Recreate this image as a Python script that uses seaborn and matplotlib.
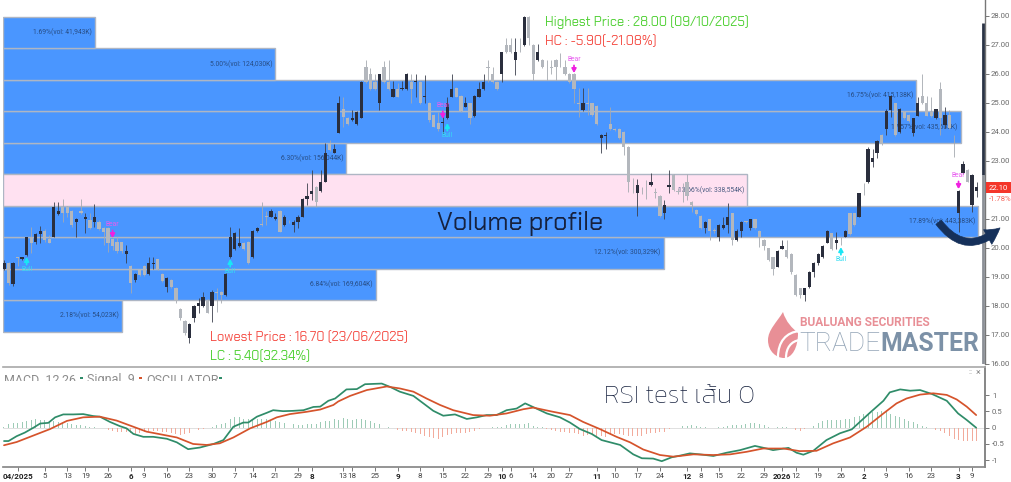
"""Daily candles with volume profile and MACD panel."""
import matplotlib
matplotlib.use("Agg")
import matplotlib.pyplot as plt
from matplotlib.patches import FancyArrowPatch, PathPatch, Rectangle
from matplotlib.path import Path
import numpy as np
import pandas as pd
import seaborn as sns

# candles, one per session
body_high = [
    19.47,19.49,19.49,19.68,19.68,20.37,20.37,20.48,20.59,20.60,
    20.31,21.40,21.28,21.40,21.40,21.28,20.99,21.29,21.08,20.97,
    21.08,20.91,20.68,20.68,20.30,20.21,20.21,19.90,19.38,19.09,
    19.26,19.38,19.49,19.48,19.61,19.10,18.98,18.90,18.61,17.90,
    17.49,17.38,18.00,18.09,18.30,18.18,18.49,18.47,18.49,19.09,
    20.39,20.51,20.18,20.18,20.22,20.59,20.68,20.81,21.09,21.29,
    21.08,21.29,21.08,20.91,20.91,21.08,21.68,21.79,21.98,22.09,
    22.29,23.28,23.61,23.40,24.99,24.78,24.47,24.49,24.70,25.73,
    26.23,26.00,25.73,26.00,26.23,25.73,25.47,25.47,25.50,26.00,
    25.73,25.76,25.73,25.24,24.99,24.58,24.30,24.33,24.99,25.48,
    25.50,25.24,24.99,24.99,25.24,25.48,25.73,26.24,26.00,25.73,
    26.75,27.00,27.00,26.75,27.01,27.98,27.98,27.00,26.75,26.48,
    26.01,26.24,26.48,26.49,26.23,26.00,26.00,25.00,24.99,25.00,
    24.99,24.89,23.89,23.89,24.27,24.09,24.09,24.00,23.49,22.18,
    22.17,21.97,22.01,22.29,21.92,21.80,21.48,22.17,22.52,21.95,
    22.01,22.29,21.60,21.31,21.10,20.91,20.99,20.62,20.79,20.79,
    21.08,21.20,20.59,20.91,20.92,20.99,20.99,20.59,20.28,19.99,
    19.68,19.91,20.07,19.93,19.79,19.07,18.61,18.61,19.18,19.49,
    19.78,20.07,20.59,20.51,20.28,20.29,20.59,21.20,21.20,21.89,
    21.87,23.40,23.09,23.70,23.89,24.72,25.24,24.99,24.78,24.69,
    24.58,24.47,24.99,25.24,24.99,24.70,24.78,25.48,24.58,24.58,
    23.18,21.98,22.89,22.69,22.51,22.10,
]
body_low = [
    19.29,18.78,18.76,19.67,19.61,19.77,20.18,20.21,20.48,20.28,
    20.18,20.39,21.18,21.20,21.20,20.79,20.89,21.20,20.99,20.68,
    20.91,20.66,20.56,20.18,20.07,19.89,19.89,19.79,18.78,18.89,
    19.07,19.07,19.09,19.45,19.26,18.87,18.67,18.67,18.18,17.58,
    17.06,16.89,17.58,18.00,18.00,17.77,18.00,18.44,18.38,18.38,
    19.68,19.97,20.08,19.97,19.47,19.68,20.59,20.78,21.07,21.08,
    20.99,20.56,20.79,20.89,20.79,20.89,21.08,21.68,21.86,21.57,
    21.98,22.29,23.38,23.29,23.98,24.50,24.27,24.41,24.27,24.49,
    25.73,25.47,25.47,24.99,25.73,25.47,25.22,25.22,25.47,25.47,
    25.47,25.73,24.99,25.22,24.41,24.18,24.09,24.31,24.47,25.22,
    25.22,24.73,24.87,24.48,24.56,25.22,25.47,26.22,25.73,25.47,
    26.00,26.75,26.75,26.48,26.99,27.00,27.23,26.00,26.48,26.23,
    25.99,26.22,26.23,26.47,26.00,25.73,25.47,24.98,24.76,24.98,
    24.58,24.27,23.78,23.86,24.09,24.07,23.78,23.49,22.29,22.16,
    21.88,21.95,21.99,22.17,21.90,21.10,21.19,22.11,22.00,21.93,
    21.99,21.79,21.48,21.17,20.68,20.68,20.59,20.60,20.39,20.68,
    20.79,20.28,20.28,20.59,20.90,20.68,20.68,20.39,20.07,19.59,
    19.28,19.36,19.98,19.68,19.16,18.38,18.38,18.38,18.67,19.18,
    19.47,19.68,20.18,19.98,20.18,20.27,20.39,20.48,20.79,21.08,
    21.85,22.27,22.98,23.29,23.58,24.09,24.76,23.89,24.01,24.47,
    24.39,23.98,24.56,24.99,24.56,24.56,24.47,24.47,24.24,24.12,
    23.16,21.19,22.57,22.29,21.48,21.98,
]
wick_high = [
    19.59,19.53,19.53,19.68,19.68,20.39,20.74,20.53,20.77,20.64,
    20.45,21.57,21.57,21.68,21.45,21.31,21.02,21.69,21.20,21.20,
    21.51,20.97,20.71,20.71,20.33,20.39,20.22,20.10,19.40,19.13,
    19.29,19.41,19.68,19.68,19.63,19.13,19.01,18.92,18.67,17.92,
    17.52,17.40,18.03,18.26,18.49,18.23,18.55,18.61,18.52,19.13,
    20.71,20.56,20.68,20.22,20.25,20.62,20.74,21.57,21.29,21.33,
    21.20,21.31,21.12,20.97,20.97,21.14,21.71,22.23,22.69,22.12,
    22.69,23.61,23.72,23.59,25.24,25.22,24.53,24.76,24.73,25.76,
    26.48,26.19,26.00,26.00,26.46,26.48,25.76,25.68,25.76,26.02,
    26.00,26.00,25.76,25.96,25.04,24.62,24.70,24.58,25.22,26.00,
    25.54,25.27,25.22,25.01,25.27,25.73,26.00,26.48,26.25,25.76,
    26.77,27.23,27.23,27.23,27.23,28.00,28.00,27.02,27.02,26.50,
    26.48,26.48,26.50,26.71,26.48,26.02,26.02,25.50,25.50,25.50,
    25.01,24.92,23.92,24.01,24.87,24.12,24.12,24.02,23.52,22.40,
    22.37,22.11,22.34,22.57,22.06,21.83,21.65,22.69,22.54,22.06,
    22.23,22.54,21.63,21.33,21.13,20.93,21.01,20.68,20.82,21.08,
    21.54,21.22,20.64,20.93,20.94,21.01,21.01,20.62,20.30,20.01,
    19.70,19.93,20.28,20.28,19.82,19.10,18.63,18.63,19.21,19.52,
    19.82,20.10,20.62,20.53,20.56,20.39,20.62,21.22,21.22,21.91,
    22.25,23.49,23.40,23.72,23.92,24.78,25.26,25.01,24.81,24.72,
    24.61,24.49,25.22,26.00,25.24,25.22,24.80,25.73,24.87,24.76,
    23.89,22.00,23.01,22.71,22.54,22.29,
]
wick_low = [
    19.24,18.72,18.69,19.38,19.59,19.72,19.82,20.14,20.16,20.22,
    20.16,20.37,21.14,20.91,21.08,20.74,20.39,21.17,20.51,20.64,
    20.74,20.62,20.10,19.87,19.93,19.82,19.84,19.49,18.44,18.83,
    19.03,19.05,19.06,19.26,19.24,18.84,18.49,18.61,18.09,17.52,
    17.00,16.71,17.46,17.75,17.95,17.75,17.46,17.80,18.09,18.36,
    19.64,19.93,20.05,19.93,19.45,19.64,20.55,20.77,20.79,21.06,
    20.97,20.54,20.76,20.85,20.56,20.68,21.06,21.48,21.66,21.40,
    21.94,22.26,23.36,23.26,23.95,24.18,24.24,24.39,24.25,24.47,
    25.70,25.45,25.45,24.76,25.70,25.45,25.19,25.19,25.45,25.45,
    24.99,25.22,24.96,24.99,24.35,24.16,24.04,23.95,24.43,25.19,
    25.19,24.70,24.85,24.27,24.53,25.19,25.45,25.73,25.70,25.45,
    25.73,26.71,26.71,25.96,26.77,26.98,27.00,25.79,26.46,26.19,
    25.79,26.00,25.79,26.25,25.96,25.70,24.99,24.53,24.73,24.58,
    24.55,24.25,23.26,23.40,24.07,24.04,23.75,23.21,21.94,21.88,
    21.10,21.86,21.68,22.15,21.71,21.08,20.99,21.88,21.98,21.86,
    21.60,21.66,21.25,21.14,20.64,20.51,20.28,20.51,20.25,20.66,
    20.51,20.10,20.25,20.39,20.85,20.62,20.64,20.05,19.93,19.56,
    19.07,19.33,19.95,19.64,19.10,18.34,18.26,18.18,18.63,18.99,
    19.41,19.64,20.16,19.93,19.97,20.10,20.37,20.46,20.76,21.06,
    21.83,22.25,22.80,23.09,23.56,23.89,24.53,23.87,23.98,24.43,
    24.35,23.86,24.54,24.96,24.54,24.53,24.45,23.89,24.12,24.10,
    23.14,20.56,22.55,22.29,21.25,21.77,
]
is_up = [
    1,0,1,0,1,1,0,1,1,0, 0,1,1,0,0,0,1,0,1,0, 1,0,0,0,0,0,0,1,0,1,
    0,0,1,1,0,0,1,0,0,0, 0,1,1,1,1,0,1,0,0,1, 1,1,1,0,0,1,1,0,0,1,
    1,0,1,0,1,1,1,1,1,0, 1,1,0,1,1,0,0,1,1,1, 0,0,0,1,0,0,1,0,1,1,
    0,1,0,1,0,0,0,1,1,1, 0,0,1,0,1,1,1,0,0,0, 1,0,0,1,0,1,0,0,1,0,
    0,0,0,0,0,0,0,0,1,0, 0,0,1,1,0,0,0,0,0,0, 1,0,0,1,0,0,1,1,0,0,
    0,0,0,0,0,1,0,0,1,1, 1,0,1,1,0,1,0,0,0,0, 0,1,1,0,0,0,0,1,1,1,
    1,1,1,0,1,0,1,0,0,1, 0,1,1,1,0,1,1,0,1,0, 0,1,1,0,0,0,1,0,1,0,
    0,1,1,0,1,1,
]

# volume profile
profile_mid = [27.42, 26.34, 25.26, 24.17, 23.09, 22.00, 20.92, 19.83, 18.74, 17.66]
profile_pct = [1.69, 5.00, 16.75, 17.57, 6.30, 13.66, 17.89, 12.12, 6.84, 2.18]
profile_text = [
    "1.69%(vol: 41,943K)", "5.00%(vol: 124,030K)", "16.75%(vol: 415,138K)",
    "17.57%(vol: 435,603K)", "6.30%(vol: 156,044K)", "13.66%(vol: 338,554K)",
    "17.89%(vol: 443,383K)", "12.12%(vol: 300,329K)", "6.84%(vol: 169,604K)",
    "2.18%(vol: 54,023K)",
]
profile_zone = ["vol", "vol", "vol", "vol", "vol", "gap", "vol", "vol", "vol", "vol"]

# signals: candle index, arrow tip price
bull_idx = [5, 50, 98, 185]
bull_tip = [19.69, 19.62, 24.31, 20.03]
bear_idx = [24, 97, 126, 211]
bear_tip = [20.34, 24.45, 26.03, 22.03]

# MACD panel
macd_x = [
    0,1,2.8,4.6,6.5,8,9.8,11.3,13.1,15.3,17.5,19.7,21.2,23.4,25.6,27.1,28.6,30.8,33,36,
    38.2,40.7,43.3,46.3,48.5,50.7,52.9,54,55.9,58.1,59.5,61.7,63.9,66.2,68.4,69.9,71.7,73.2,
    75.7,78,79.8,83.5,85.3,87.5,90.5,92.7,94.9,97.1,99.7,102.3,104.5,106.7,108.9,111.1,113.3,
    115.2,117.7,120,122.9,125.1,127.3,129.9,132.1,136.2,139.1,141,143.5,145.4,147.6,
    149.4,151.6,153.8,156.8,159.7,162.7,166,168.6,170,173.4,175.2,176.7,178.9,181.8,184.8,
    187.4,189.2,191.4,194.4,195.8,198.1,200.3,202.5,205.1,208.4,210.9,212.8,214.9,
]
macd_val = [
    -0.41,-0.41,-0.26,-0.15,0.00,0.13,0.15,0.32,0.41,0.41,0.42,0.36,0.34,0.18,0.05,-0.02,-0.19,-0.28,-0.28,-0.34,
    -0.45,-0.66,-0.61,-0.50,-0.38,0.03,0.16,0.16,0.34,0.46,0.54,0.51,0.52,0.54,0.64,0.65,0.83,0.90,
    1.18,1.19,1.34,1.36,1.26,1.11,0.98,0.75,0.52,0.37,0.41,0.27,0.32,0.39,0.39,0.54,0.59,
    0.75,0.59,0.44,0.32,0.16,-0.04,-0.19,-0.38,-0.53,-0.82,-0.94,-0.95,-1.03,-0.91,
    -0.86,-0.79,-0.82,-0.87,-0.77,-0.69,-0.56,-0.64,-0.69,-0.62,-0.77,-0.83,-0.71,-0.38,-0.17,
    -0.05,0.18,0.46,0.83,1.09,1.18,1.14,1.16,1.04,0.83,0.44,0.24,0.00,
]
signal_x = [
    0,2.8,6.5,10.2,13.9,17.5,21.2,24.9,28.6,31.5,36,38.2,41.8,44.8,47.7,50.7,54.4,58.1,60.3,63.2,66.9,69.9,72.8,
    73.9,76.5,80.2,84.6,87.5,90.5,93.4,96.4,99.3,103.7,107.4,111.1,114.8,117,121.4,125.1,128,131.7,135.4,138.4,141.3,145,147.9,
    149.4,152.4,156.8,160.5,164.2,167.8,172.3,175.9,179.6,183.3,187,190.7,194.4,197.3,199.5,202.5,205.4,208.4,210.6,212.8,214.9,
]
signal_val = [
    -0.54,-0.44,-0.24,-0.04,0.21,0.32,0.34,0.22,0.03,-0.12,-0.24,-0.30,-0.50,-0.53,-0.48,-0.30,-0.02,0.18,0.32,0.42,0.49,0.56,0.70,
    0.81,0.98,1.16,1.27,1.21,1.11,0.90,0.70,0.54,0.39,0.37,0.44,0.57,0.62,0.49,0.39,0.18,-0.04,-0.28,-0.45,-0.67,-0.84,-0.89,
    -0.87,-0.82,-0.84,-0.82,-0.74,-0.64,-0.64,-0.72,-0.71,-0.48,-0.30,0.03,0.44,0.75,0.90,1.02,1.06,1.01,0.87,0.65,0.39,
]
osc_val = [
    0.03,0.12,0.14,0.15,0.17,0.22,0.24,0.27,0.25,0.23,0.21,0.20,0.18,0.16,0.14,0.11,0.08,0.07,0.06,0.03,
    0.01,0.00,-0.02,-0.06,-0.10,-0.13,-0.14,-0.14,-0.16,-0.18,-0.17,-0.13,-0.11,-0.09,-0.11,-0.12,-0.14,-0.17,-0.19,-0.21,
    -0.20,-0.15,-0.11,-0.07,-0.04,-0.02,0.02,0.07,0.10,0.14,0.26,0.32,0.32,0.28,0.26,0.24,0.26,0.27,0.27,0.25,
    0.20,0.17,0.14,0.12,0.10,0.09,0.09,0.11,0.12,0.12,0.17,0.20,0.22,0.27,0.25,0.30,0.26,0.25,0.27,0.27,
    0.24,0.20,0.16,0.13,0.06,0.01,-0.02,-0.06,-0.09,-0.10,-0.12,-0.15,-0.20,-0.25,-0.30,-0.33,-0.34,-0.30,-0.22,-0.18,
    -0.17,-0.15,-0.15,-0.13,-0.10,-0.05,-0.02,0.00,0.03,0.03,0.02,0.08,0.12,0.13,0.12,0.13,0.15,0.05,0.02,0.01,
    -0.03,-0.08,-0.11,-0.12,-0.13,-0.15,-0.17,-0.20,-0.24,-0.23,-0.23,-0.24,-0.27,-0.28,-0.20,-0.18,-0.20,-0.22,-0.24,-0.26,
    -0.27,-0.25,-0.18,-0.15,-0.15,-0.13,-0.13,-0.04,-0.02,0.00,0.04,0.06,0.07,0.05,0.02,0.01,-0.01,-0.02,0.02,0.03,
    0.06,0.07,0.07,0.09,0.12,0.14,0.14,0.11,0.07,0.02,-0.01,0.01,0.02,0.01,-0.02,-0.06,-0.09,-0.05,-0.01,0.06,
    0.14,0.20,0.24,0.24,0.24,0.25,0.26,0.28,0.34,0.36,0.42,0.46,0.48,0.48,0.50,0.52,0.42,0.36,0.32,0.26,
    0.20,0.17,0.12,0.06,0.01,-0.02,-0.06,-0.10,-0.15,-0.25,-0.35,-0.38,-0.40,-0.40,-0.40,-0.42,
]

# axes labels
price_ticks = [28, 27, 26, 25, 24, 23, 22, 21, 20, 19, 18, 17, 16]
macd_ticks = [1, 0.5, 0, -0.5, -1]
date_idx = [3, 9, 14, 18, 23, 28, 31, 36, 41, 46, 51, 55, 60, 65, 68, 75, 77, 82, 87, 92,
            97, 102, 107, 110, 112, 117, 121, 125, 131, 135, 140, 145, 151, 154, 158, 163,
            168, 172, 175, 180, 185, 190, 195, 200, 205, 211, 214]
date_text = ["04/2025", "5", "13", "19", "26", "6", "9", "16", "23", "30", "7", "14", "21", "29", "8",
             "13", "18", "25", "9", "8", "15", "22", "29", "10", "6", "14", "20", "27", "11", "10",
             "17", "24", "12", "8", "15", "22", "29", "2026", "12", "19", "26", "2", "9", "16", "23", "3", "9"]
bold_idx = [3, 28, 68, 87, 110, 131, 151, 172, 190, 211]

FIG_W, FIG_H = 1012, 482
DARK, GREY = "#2A2E3D", "#B3B7BD"
INK = "#16213E"
NOTE_FONT = ["Chakra Petch", "Open Sans", "DejaVu Sans"]

sns.set_theme(style="white")
plt.rcParams["font.family"] = ["Roboto", "Noto Sans", "DejaVu Sans"]

candles = pd.DataFrame({
    "x": np.arange(len(body_high)), "top": body_high, "bot": body_low,
    "hi": wick_high, "lo": wick_low, "up": is_up,
})
profile = pd.DataFrame({"pct": profile_pct, "mid": profile_mid, "zone": profile_zone})

fig = plt.figure(figsize=(FIG_W / 100, FIG_H / 100), dpi=100, facecolor="white")


def px_axes(x0, y0, x1, y1):
    return fig.add_axes([x0 / FIG_W, 1 - y1 / FIG_H, (x1 - x0) / FIG_W, (y1 - y0) / FIG_H])


ax = px_axes(3, 0, 985, 364)
ax_prof = ax.twiny()
ax.set_zorder(2)
ax.patch.set_visible(False)
ax_prof.set_zorder(1)

# ── volume profile ────────────────────────────────────────────────
sns.barplot(
    data=profile, x="pct", y="mid", hue="zone", orient="y", native_scale=True,
    palette={"vol": "#4A96FF", "gap": "#FFE1F1"}, dodge=False, width=1, saturation=1,
    edgecolor="#AEB6C4", linewidth=1, legend=False, ax=ax_prof,
)
ax_prof.set_xlim(0, 982 / 54.5)
ax_prof.xaxis.set_visible(False)
ax_prof.set_xlabel("")
ax_prof.set_ylabel("")
for s in ax_prof.spines.values():
    s.set_visible(False)

# ── candles ───────────────────────────────────────────────────────
up = candles["up"] == 1
for mask, col, wick in ((~up, GREY, "#A5A9B0"), (up, DARK, "#3B3F4C")):
    part = candles[mask]
    ax.vlines(part["x"], part["lo"], part["hi"], color=wick, lw=0.6, zorder=3)
    ax.bar(part["x"], part["top"] - part["bot"], bottom=part["bot"], width=0.72,
           color=col, linewidth=0, zorder=4)

ax.vlines(216.4, 22.52, 27.76, color="#2A3345", lw=2, zorder=4)
ax.vlines(216.4, 16.0, 22.52, color="#8C9097", lw=2, zorder=4)

arrow_style = "-|>,head_width=0.11,head_length=0.2"
for i, tip in zip(bull_idx, bull_tip):
    ax.annotate("", xy=(i, tip), xytext=(0, -5.5), textcoords="offset points", zorder=6,
                arrowprops=dict(arrowstyle=arrow_style, color="#19E6F5", lw=1.3, shrinkA=0, shrinkB=0))
    ax.annotate("Bull", xy=(i, tip), xytext=(0, -6.5), textcoords="offset points", ha="center", va="top",
                fontsize=4.8, color="#35DDF2", zorder=6)
for i, tip in zip(bear_idx, bear_tip):
    ax.annotate("", xy=(i, tip), xytext=(0, 5.5), textcoords="offset points", zorder=6,
                arrowprops=dict(arrowstyle=arrow_style, color="#F020E0", lw=1.3, shrinkA=0, shrinkB=0))
    ax.annotate("Bear", xy=(i, tip), xytext=(0, 7), textcoords="offset points", ha="center", va="bottom",
                fontsize=4.8, color="#E85CF0", zorder=6)

ax.set_xlim(-0.22, 216.85)
ax.set_ylim(16.0, 28.55)
ax.set_xticks([])
ax.yaxis.tick_right()
ax.set_yticks(price_ticks)
# the price tag covers the 22.00 label
ax.set_yticklabels([f"{p:.2f}" if p != 22 else "" for p in price_ticks], fontsize=5.6, color="#6A6A6A")
ax.tick_params(axis="y", length=3, width=0.7, color="#777777", pad=1, right=True, left=False)
for name, s in ax.spines.items():
    s.set_visible(name == "right")
ax.spines["right"].set_color("#777777")
ax.spines["right"].set_linewidth(1)

for pct, mid, txt in zip(profile_pct, profile_mid, profile_text):
    ax_prof.annotate(txt, xy=(pct, mid), xytext=(-2, 0), textcoords="offset points", ha="right",
                     va="center", fontsize=4.9, color="#1F3B66", alpha=0.8, zorder=5)

# ── MACD panel ────────────────────────────────────────────────────
ax_m = px_axes(3, 367, 985, 466.7)
colors = ["#9DCBB6" if v >= 0 else "#F2AB9C" for v in osc_val]
ax_m.bar(np.arange(len(osc_val)), osc_val, width=0.22, color=colors, linewidth=0, zorder=1)
ax_m.axhline(0, color="#DADADA", lw=0.6, zorder=0)
sns.lineplot(x=macd_x, y=macd_val, color="#2F8C69", lw=1.25, ax=ax_m, zorder=3)
sns.lineplot(x=signal_x, y=signal_val, color="#D5532B", lw=1.25, ax=ax_m, zorder=4)
ax_m.set_xlim(-0.22, 216.85)
ax_m.set_ylim(-1.2, 1.87)
ax_m.yaxis.tick_right()
ax_m.set_yticks(macd_ticks)
ax_m.set_yticklabels(["1", "0.5", "0", "-0.5", "-1"], fontsize=5.6, color="#6A6A6A")
ax_m.set_xticks(date_idx)
ax_m.set_xticklabels(date_text, fontsize=5.8, color="#444444")
for pos, lab in zip(date_idx, ax_m.get_xticklabels()):
    if pos in bold_idx:
        lab.set_fontweight("bold")
        lab.set_color("#222222")
ax_m.tick_params(axis="x", length=3, width=0.7, color="#777777", pad=1.5, bottom=True)
ax_m.tick_params(axis="y", length=3, width=0.7, color="#777777", pad=2, right=True, left=False)
ax_m.spines["left"].set_visible(False)
ax_m.spines["top"].set_color("#A8A8A8")
ax_m.spines["top"].set_linewidth(1.2)
ax_m.spines["bottom"].set_color("#888888")
ax_m.spines["right"].set_color("#777777")
ax_m.patch.set_visible(False)

# ── overlay in pixel coordinates: notes, logo, price tag ──────────
ov = fig.add_axes([0, 0, 1, 1], zorder=10)
ov.set_xlim(0, FIG_W)
ov.set_ylim(FIG_H, 0)
ov.axis("off")

note_font = dict(family=NOTE_FONT, fontsize=9.35, va="center", ha="left")
ov.text(545, 22, "Highest Price : 28.00 (09/10/2025)", color="#52D137", **note_font)
ov.text(545, 42, "HC : -5.90(-21.08%)", color="#F5524A", **note_font)
ov.text(210, 338, "Lowest Price : 16.70 (23/06/2025)", color="#F5524A", **note_font)
ov.text(210, 357, "LC : 5.40(32.34%)", color="#52D137", **note_font)
ov.text(437, 223, "Volume profile", color=INK, fontsize=18.2, va="center", ha="left", family=NOTE_FONT)
ov.text(604, 397, "RSI test เส้น 0", color=INK, fontsize=19, fontweight="light", va="center", ha="left",
        family=["Kanit", "Noto Sans", "DejaVu Sans"])

# price tag
ov.add_patch(Rectangle((986, 182), 25, 11, color="#F4362A", lw=0))
ov.text(998.5, 187.5, "22.10", color="white", fontsize=5.6, ha="center", va="center")
ov.text(1000, 199, "-1.78%", color="#F5635A", fontsize=5.6, ha="center", va="center")

# header of the panel, cut off by the plot area below it
clip = Rectangle((0, 368), 300, 13, transform=ov.transData)
for x, txt in ((4, "MACD  12,26"), (87, "Signal  9"), (146, "OSCILLATOR")):
    t = ov.text(x, 380, txt, color="#8C8C8C", fontsize=9, va="center", ha="left", clip_on=True)
    t.set_clip_path(clip)
for x, col in ((82, "#2F8C69"), (141, "#D5532B"), (221, "#2F8C69")):
    ov.add_patch(Rectangle((x - 1.5, 377), 3, 2, color=col, lw=0))
ov.text(970, 372, "::", color="#8C8C8C", fontsize=6, ha="center", va="center")
ov.text(978, 372, "×", color="#8C8C8C", fontsize=6.5, ha="center", va="center")

# logo
drop = Path(
    [(783, 312), (777, 322), (768, 330), (768, 340), (768, 352), (777, 358), (784, 358),
     (792, 358), (798, 348), (798, 333), (792, 328), (786, 322), (783, 312), (783, 312)],
    [Path.MOVETO] + [Path.CURVE4] * 12 + [Path.CLOSEPOLY],
)
ov.add_patch(PathPatch(drop, facecolor="#E88F96", edgecolor="none"))
for verts in ([(800, 331), (786, 332), (778, 342), (778, 357)], [(800, 340), (791, 341), (786, 348), (786, 358)]):
    ov.add_patch(PathPatch(Path(verts, [Path.MOVETO] + [Path.CURVE4] * 3), facecolor="none", edgecolor="white", lw=1.6))
ov.text(800, 323, "BUALUANG SECURITIES", color="#E88F96", fontsize=8.6, fontweight="bold", va="center", ha="left")
ov.text(799, 344, "TRADE", color="#93A4B6", fontsize=19, fontweight="light", va="center", ha="left")
ov.text(880, 344, "MASTER", color="#7C91A7", fontsize=17.8, fontweight="bold", va="center", ha="left")

# curved arrow over the last profile bar
ov.add_patch(FancyArrowPatch(
    (937, 220), (1002, 226), connectionstyle="arc3,rad=0.58",
    arrowstyle="simple,head_width=12,head_length=11,tail_width=5",
    facecolor="#15305A", edgecolor="#15305A", lw=0.5, zorder=7,
))

fig.savefig("out.png", dpi=100, facecolor="white")
plt.close(fig)
